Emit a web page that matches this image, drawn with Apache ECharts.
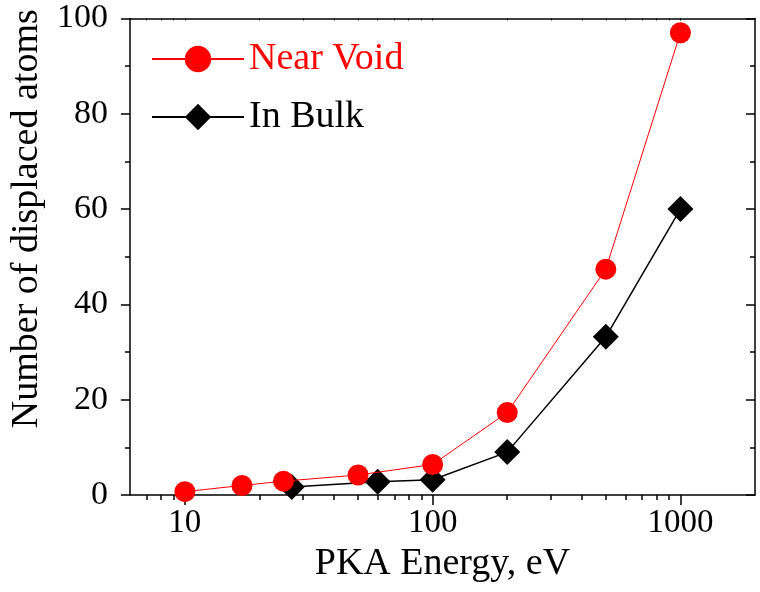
<!DOCTYPE html>
<html>
<head>
<meta charset="utf-8">
<script src="https://cdn.jsdelivr.net/npm/echarts@6/dist/echarts.min.js"></script>
<style>html,body{margin:0;padding:0;background:#fff}#c{width:760px;height:592px}</style>
</head>
<body>
<div id="c"></div>
<script>
// Data
const nearVoidX = [10, 17, 25, 50, 100, 200, 500, 1000];
const nearVoidY = [0.7, 2.0, 2.9, 4.2, 6.4, 17.3, 47.4, 97.0];
const inBulkX = [27, 60, 100, 200, 500, 1000];
const inBulkY = [1.7, 2.8, 3.2, 9.0, 33.2, 60.0];
const xMajorTicks = [10, 100, 1000];
const xMinorTicks = [7, 8, 9, 20, 30, 40, 50, 60, 70, 80, 90, 200, 300, 400, 500, 600, 700, 800, 900];
const yTicks = [0, 20, 40, 60, 80, 100];

const FONT = "'Liberation Serif', 'Times New Roman', serif";
const chart = echarts.init(document.getElementById('c'), null, {renderer: 'canvas'});
const pair = (xs, ys) => xs.map((x, i) => [x, ys[i]]);
const lineW = 1.5;
const baseX = {
  type: 'log', logBase: 10, min: 6, max: 2000, gridIndex: 0,
  splitLine: {show: false}
};
chart.setOption({
  animation: false,
  backgroundColor: '#fff',
  grid: {left: 129.5, right: 5, top: 18.5, bottom: 97, containLabel: false},
  legend: {
    orient: 'vertical', left: 151, top: 40, padding: 0,
    itemWidth: 92, itemHeight: 33, itemGap: 20,
    textStyle: {fontFamily: FONT, fontSize: 38},
    data: [
      {name: 'Near Void', textStyle: {color: '#ff0000'}},
      {name: 'In Bulk', textStyle: {color: '#000'}}
    ]
  },
  xAxis: [
    Object.assign({}, baseX, {
      position: 'bottom',
      name: 'PKA Energy, eV', nameLocation: 'middle', nameGap: 46,
      nameTextStyle: {fontFamily: FONT, fontSize: 38, color: '#000'},
      axisLine: {show: true, lineStyle: {color: '#000', width: lineW}},
      axisTick: {show: true, inside: false, length: 10, lineStyle: {color: '#000', width: lineW}, customValues: xMajorTicks},
      axisLabel: {fontFamily: FONT, fontSize: 33, color: '#000', margin: 12, customValues: xMajorTicks,
        formatter: v => String(Math.round(v))}
    }),
    Object.assign({}, baseX, {
      position: 'bottom',
      axisLine: {show: false},
      axisTick: {show: true, inside: false, length: 5, lineStyle: {color: '#000', width: lineW}, customValues: xMinorTicks},
      axisLabel: {show: false}
    }),
    Object.assign({}, baseX, {
      position: 'top',
      axisLine: {show: true, lineStyle: {color: '#000', width: lineW}},
      axisTick: {show: true, inside: true, length: 2, lineStyle: {color: '#000', width: 1}, customValues: xMajorTicks.concat(xMinorTicks)},
      axisLabel: {show: false}
    })
  ],
  yAxis: [
    {
      type: 'value', min: 0, max: 100, interval: 20, position: 'left',
      name: 'Number of displaced atoms', nameLocation: 'middle', nameGap: 73,
      nameRotate: 90,
      nameTextStyle: {fontFamily: FONT, fontSize: 38, color: '#000', padding: [0, 0, 0, 76]},
      axisLine: {show: true, lineStyle: {color: '#000', width: lineW}},
      axisTick: {show: true, inside: false, length: 9, lineStyle: {color: '#000', width: lineW}},
      minorTick: {show: true, splitNumber: 2, length: 5, lineStyle: {color: '#000', width: lineW}},
      axisLabel: {fontFamily: FONT, fontSize: 34, color: '#000', margin: 22},
      splitLine: {show: false}
    },
    {
      type: 'value', min: 0, max: 100, interval: 20, position: 'right',
      axisLine: {show: true, lineStyle: {color: '#000', width: lineW}},
      axisTick: {show: true, inside: true, length: 9, lineStyle: {color: '#000', width: lineW}},
      minorTick: {show: true, splitNumber: 2, length: 5, lineStyle: {color: '#000', width: lineW}},
      axisLabel: {show: false},
      splitLine: {show: false}
    }
  ],
  series: [
    {
      name: 'In Bulk', type: 'line', xAxisIndex: 0, yAxisIndex: 0,
      data: pair(inBulkX, inBulkY),
      symbol: 'diamond', symbolSize: 26, z: 3,
      lineStyle: {color: '#000', width: 1.5},
      itemStyle: {color: '#000'}
    },
    {
      name: 'Near Void', type: 'line', xAxisIndex: 0, yAxisIndex: 0,
      data: pair(nearVoidX, nearVoidY),
      symbol: 'circle', symbolSize: 21, z: 4,
      lineStyle: {color: '#ff0000', width: 1},
      itemStyle: {color: '#ff0000'}
    }
  ]
});
</script>
</body>
</html>
